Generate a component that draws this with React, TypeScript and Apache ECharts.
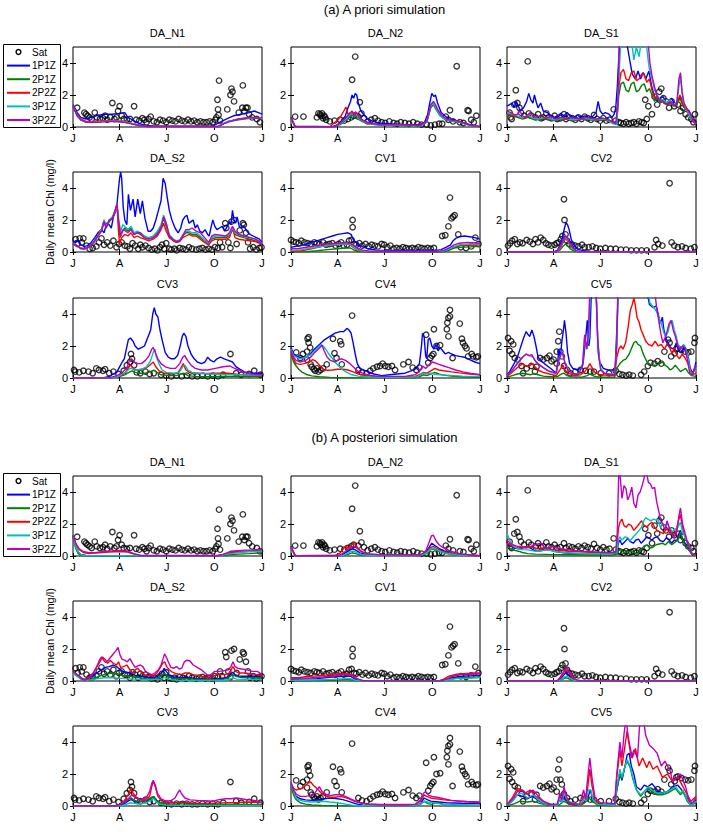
import React, { useEffect, useRef } from "react";
import * as echarts from "echarts";

// ---------- categories, ticks, styling tables ----------
const STATIONS = ["DA_N1", "DA_N2", "DA_S1", "DA_S2", "CV1", "CV2", "CV3", "CV4", "CV5"];
const MODELS = ["1P1Z", "2P1Z", "2P2Z", "3P1Z", "3P2Z"];
const MODEL_COLORS = ["#0000ff", "#008000", "#ff0000", "#00bfbf", "#bf00bf"];
const PHASE_TITLES = ["(a) A priori simulation", "(b) A posteriori simulation"];
const MONTH_DAYS = [0, 90, 181, 273, 365];
const MONTH_LABELS = ["J", "A", "J", "O", "J"];
const Y_TICKS = [0, 2, 4];
const Y_LABEL = "Daily mean Chl (mg/l)";

// ---------- satellite observations: [day, chl, day, chl, ...] ----------
const SAT_DA_N1 = [8,1.2, 22,0.9, 25,0.8, 28,0.7, 32,0.6, 36,0.5, 42,0.9, 46,0.6, 52,0.5, 58,0.55, 62,0.7, 66,0.45, 72,0.6, 76,1.5, 80,0.5, 84,0.6, 87,1.0, 90,1.3, 94,0.7, 98,0.5, 104,0.45, 110,0.5, 118,1.3, 122,0.45, 128,0.4, 134,0.55, 138,0.45, 142,0.3, 146,0.5, 150,0.65, 156,0.35, 162,0.3, 168,0.45, 174,0.4, 180,0.3, 186,0.45, 192,0.4, 198,0.35, 204,0.5, 210,0.4, 216,0.35, 222,0.45, 228,0.35, 234,0.4, 240,0.3, 246,0.35, 252,0.3, 258,0.3, 264,0.35, 270,0.3, 275,0.45, 277,0.6, 279,1.7, 280,1.1, 281,0.75, 282,2.9, 284,0.4, 298,1.1, 304,2.0, 306,2.4, 308,2.2, 311,1.6, 320,0.9, 327,1.2, 328,2.6, 331,1.0, 334,1.2, 337,1.2, 340,0.8, 346,0.6, 355,0.5, 361,0.3];
const SAT_DA_N2 = [8,0.65, 24,0.65, 50,0.6, 53,0.85, 56,0.8, 58,0.7, 60,0.85, 62,0.55, 64,0.7, 66,0.6, 68,0.45, 75,0.35, 84,0.4, 95,0.45, 103,0.4, 110,0.5, 116,0.6, 118,2.95, 121,0.7, 124,4.4, 130,0.65, 133,1.55, 136,0.85, 141,0.55, 148,0.35, 155,0.45, 162,0.55, 168,0.4, 175,0.3, 182,0.25, 190,0.35, 198,0.25, 205,0.2, 212,0.3, 220,0.25, 228,0.2, 236,0.3, 244,0.2, 252,0.15, 262,0.15, 270,0.1, 278,0.15, 286,0.2, 292,0.2, 299,0.65, 304,0.45, 307,1.05, 313,0.35, 320,3.8, 326,0.3, 333,0.25, 341,1.05, 343,1.0, 348,0.45, 353,0.3, 358,0.7];
const SAT_DA_S1 = [5,0.9, 7,0.6, 9,0.5, 14,1.4, 17,2.3, 20,1.5, 24,1.2, 27,0.9, 33,0.7, 40,4.1, 42,0.85, 47,0.7, 55,0.6, 60,0.8, 66,0.55, 70,0.6, 76,0.85, 80,0.6, 86,0.55, 92,0.7, 97,0.5, 103,0.55, 110,0.8, 114,0.5, 120,0.6, 126,0.55, 132,0.45, 138,0.6, 144,0.5, 150,0.65, 156,0.55, 162,0.45, 168,0.75, 174,0.5, 180,0.4, 186,0.55, 192,0.4, 198,0.45, 206,1.1, 210,0.4, 216,0.3, 220,0.25, 225,0.2, 230,0.3, 235,0.2, 240,0.25, 245,0.3, 250,0.2, 255,0.35, 260,0.3, 264,0.25, 267,1.7, 270,0.5, 273,1.3, 280,0.8, 285,1.9, 290,1.4, 294,2.2, 298,2.4, 302,1.8, 307,1.6, 313,1.2, 318,1.6, 323,1.3, 330,1.4, 335,1.0, 340,1.2, 345,0.8, 350,0.6, 356,0.5, 360,0.3, 363,0.8];
const SAT_DA_S2 = [5,0.8, 9,0.5, 13,0.85, 17,0.6, 20,0.85, 26,0.4, 32,0.2, 38,0.25, 45,0.35, 50,0.6, 55,0.85, 60,0.45, 66,0.6, 72,0.4, 78,0.7, 84,0.3, 89,0.5, 94,0.6, 100,0.4, 105,0.35, 110,0.2, 115,0.55, 120,0.4, 126,0.2, 130,0.45, 134,0.3, 140,0.4, 146,0.25, 152,0.15, 158,0.2, 163,0.1, 168,0.3, 172,0.45, 176,0.2, 180,0.55, 186,0.2, 190,0.15, 196,0.2, 200,0.1, 206,0.25, 212,0.2, 218,0.15, 224,0.3, 230,0.2, 238,0.15, 244,0.2, 250,0.25, 256,0.15, 262,0.2, 268,0.15, 274,0.3, 280,0.25, 284,0.6, 288,0.3, 294,1.8, 296,1.5, 300,0.6, 304,0.25, 306,1.9, 311,2.0, 316,0.5, 322,1.35, 328,1.8, 330,1.7, 334,1.2, 338,0.6, 342,0.2, 348,0.3, 354,0.15, 360,0.25, 364,0.3];
const SAT_CV1 = [0,0.75, 5,0.65, 10,0.6, 15,0.55, 20,0.7, 26,0.6, 32,0.55, 38,0.5, 45,0.6, 50,0.55, 55,0.5, 62,0.6, 68,0.45, 74,0.5, 80,0.55, 86,0.4, 92,0.5, 97,0.6, 102,0.4, 108,0.45, 112,0.7, 117,0.75, 119,2.0, 119,1.55, 122,0.5, 126,0.45, 132,0.55, 138,0.4, 144,0.5, 150,0.35, 156,0.45, 162,0.4, 168,0.35, 175,0.5, 180,0.45, 186,0.3, 192,0.4, 198,0.2, 204,0.25, 210,0.2, 216,0.3, 222,0.25, 228,0.2, 234,0.25, 240,0.2, 246,0.3, 252,0.25, 258,0.2, 264,0.25, 270,0.2, 276,0.25, 292,1.0, 298,1.05, 304,1.6, 307,3.4, 310,2.1, 313,2.2, 316,2.3, 323,1.1, 328,0.3, 338,0.25, 348,0.35, 356,0.9, 362,0.5];
const SAT_CV2 = [2,0.4, 6,0.55, 10,0.7, 15,0.8, 20,0.5, 25,0.6, 30,0.55, 38,0.75, 44,0.65, 50,0.5, 55,0.8, 60,0.6, 65,0.9, 70,0.75, 75,0.55, 80,0.45, 86,0.4, 92,0.45, 96,0.55, 100,0.6, 104,0.8, 107,1.0, 110,3.3, 111,2.0, 113,1.1, 116,0.7, 120,0.5, 126,0.45, 132,0.4, 138,0.35, 145,0.45, 150,0.3, 158,0.3, 165,0.35, 172,0.25, 180,0.2, 190,0.25, 200,0.2, 210,0.2, 220,0.15, 230,0.15, 240,0.1, 250,0.1, 260,0.1, 270,0.1, 285,0.3, 288,0.75, 292,0.5, 300,0.4, 314,4.3, 318,0.6, 323,0.4, 330,0.3, 338,0.35, 345,0.25, 355,0.2, 362,0.3];
const SAT_CV3 = [2,0.5, 4,0.4, 12,0.35, 20,0.45, 30,0.4, 38,0.3, 45,0.6, 50,0.5, 58,0.45, 62,0.55, 70,0.3, 78,0.4, 88,0.25, 98,0.45, 104,0.8, 110,1.0, 112,1.5, 114,1.2, 118,0.8, 123,0.35, 130,0.3, 140,0.4, 148,0.25, 156,0.3, 170,0.2, 180,0.15, 190,0.1, 200,0.15, 210,0.1, 220,0.15, 230,0.1, 240,0.1, 250,0.15, 260,0.1, 270,0.15, 280,0.1, 290,0.2, 304,1.5, 315,0.3, 325,0.2, 340,0.25, 350,0.45, 362,0.2];
const SAT_CV4 = [10,1.6, 18,1.25, 23,1.5, 31,1.15, 32,2.45, 34,2.55, 34,2.2, 37,1.9, 31,1.65, 38,0.85, 40,0.7, 44,0.55, 47,0.45, 50,0.6, 53,0.4, 57,0.5, 62,0.6, 69,0.85, 81,2.45, 84,1.55, 88,1.25, 95,2.3, 97,2.1, 98,0.85, 118,3.9, 130,0.5, 137,0.35, 146,0.3, 153,0.45, 159,0.6, 166,0.7, 172,0.75, 177,0.9, 182,0.75, 188,0.7, 195,0.75, 201,0.5, 217,0.85, 227,1.0, 235,0.65, 242,0.5, 248,0.65, 261,2.7, 265,0.95, 269,1.25, 272,1.4, 275,1.5, 276,3.05, 281,2.0, 288,2.05, 301,3.05, 302,3.45, 304,3.75, 307,4.25, 307,3.85, 304,2.6, 312,1.25, 326,3.4, 330,2.45, 332,2.2, 336,2.0, 339,1.85, 342,1.35, 349,1.5, 352,1.35, 358,1.3, 361,1.35];
const SAT_CV5 = [2,2.5, 8,2.3, 12,2.1, 5,1.7, 10,1.5, 15,1.25, 21,1.15, 28,0.75, 31,0.3, 38,0.6, 47,0.75, 54,0.4, 57,0.7, 64,1.25, 70,1.15, 77,1.25, 82,1.4, 86,1.05, 90,1.15, 96,0.9, 96,1.65, 99,2.3, 101,2.9, 103,1.65, 106,1.35, 110,0.75, 116,0.5, 122,0.3, 132,0.4, 142,0.5, 152,0.45, 161,0.4, 168,0.4, 181,0.3, 197,0.3, 210,0.45, 217,0.25, 223,0.2, 230,0.15, 236,0.2, 243,0.15, 259,0.2, 265,0.4, 272,0.75, 277,0.95, 285,0.9, 291,1.05, 298,0.9, 304,1.65, 311,2.4, 314,2.2, 317,1.35, 324,1.55, 327,1.8, 330,1.85, 337,1.75, 344,1.65, 350,1.6, 356,1.65, 362,2.2, 363,2.5];

// ---------- a priori runs: [day, chl, ...] ----------
const PRI_DA_N1_1P1Z = [0,1.4, 8,0.9, 15,0.6, 25,0.5, 35,0.6, 45,0.7, 60,0.8, 75,0.8, 90,0.85, 100,0.9, 106,0.6, 112,0.5, 120,0.35, 130,0.2, 140,0.1, 160,0.05, 265,0.05, 275,0.15, 290,0.4, 300,0.55, 310,0.7, 325,0.8, 340,0.9, 350,1.0, 358,0.9, 365,0.8];
const PRI_DA_N1_2P1Z = [0,1.3, 8,0.7, 15,0.45, 25,0.3, 40,0.3, 60,0.35, 80,0.35, 100,0.3, 115,0.2, 130,0.08, 145,0.02, 280,0.02, 290,0.2, 300,0.35, 320,0.45, 340,0.55, 355,0.55, 365,0.5];
const PRI_DA_N1_2P2Z = [0,1.3, 8,0.75, 15,0.5, 25,0.35, 40,0.35, 60,0.4, 80,0.4, 100,0.35, 115,0.2, 130,0.1, 145,0.03, 280,0.03, 290,0.2, 300,0.35, 320,0.5, 340,0.6, 355,0.6, 365,0.55];
const PRI_DA_N1_3P1Z = [0,1.35, 8,0.7, 15,0.45, 25,0.3, 40,0.3, 60,0.35, 80,0.38, 100,0.33, 115,0.2, 130,0.08, 145,0.02, 280,0.02, 290,0.2, 300,0.35, 320,0.5, 340,0.55, 355,0.58, 365,0.55];
const PRI_DA_N1_3P2Z = [0,1.3, 8,0.7, 15,0.45, 25,0.3, 45,0.3, 60,0.32, 80,0.35, 100,0.3, 115,0.18, 130,0.08, 145,0.03, 280,0.03, 290,0.2, 300,0.3, 320,0.5, 335,0.55, 345,0.6, 355,0.55, 365,0.6];

const PRI_DA_N2_1P1Z = [0,0.6, 8,0.05, 80,0.02, 90,0.15, 98,0.4, 105,0.7, 110,1.2, 115,1.6, 118,2.0, 121,1.8, 124,2.1, 127,2.0, 130,1.5, 135,1.0, 140,0.8, 148,0.5, 158,0.35, 170,0.25, 190,0.2, 220,0.15, 250,0.15, 258,0.3, 264,0.8, 268,1.5, 272,2.1, 276,1.9, 279,2.0, 283,1.5, 290,0.9, 297,0.7, 305,0.5, 315,0.45, 325,0.35, 335,0.25, 350,0.1, 365,0.02];
const PRI_DA_N2_2P1Z = [0,0.55, 8,0.02, 85,0.02, 95,0.15, 105,0.4, 112,0.6, 118,0.75, 122,0.6, 126,0.7, 132,0.45, 140,0.3, 150,0.2, 170,0.12, 250,0.08, 262,0.3, 270,1.2, 275,1.4, 280,1.1, 288,0.7, 298,0.45, 310,0.35, 325,0.3, 345,0.1, 365,0.02];
const PRI_DA_N2_2P2Z = [0,0.55, 8,0.02, 75,0.02, 85,0.3, 95,0.6, 102,1.0, 106,1.25, 110,0.8, 115,0.9, 120,0.8, 125,0.95, 130,0.6, 140,0.4, 150,0.25, 170,0.15, 250,0.1, 262,0.3, 270,1.3, 275,1.5, 280,1.2, 288,0.75, 298,0.5, 310,0.4, 325,0.35, 345,0.12, 365,0.02];
const PRI_DA_N2_3P1Z = [0,0.55, 8,0.02, 85,0.02, 95,0.2, 105,0.45, 112,0.7, 118,0.85, 122,0.7, 126,0.8, 132,0.5, 140,0.35, 150,0.22, 170,0.12, 250,0.08, 262,0.3, 270,1.3, 275,1.5, 280,1.15, 288,0.7, 298,0.48, 310,0.38, 325,0.32, 345,0.1, 365,0.02];
const PRI_DA_N2_3P2Z = [0,0.55, 8,0.02, 85,0.02, 95,0.25, 105,0.55, 112,0.8, 118,1.0, 122,0.7, 127,0.9, 133,0.55, 140,0.4, 150,0.25, 170,0.15, 250,0.1, 262,0.35, 270,1.4, 275,1.6, 279,1.4, 285,1.0, 292,0.7, 300,0.5, 312,0.42, 325,0.35, 345,0.12, 365,0.02];

const PRI_DA_S1_1P1Z = [0,1.3, 5,1.4, 10,1.5, 14,1.2, 18,1.6, 22,1.3, 26,1.0, 32,1.2, 38,1.6, 42,2.1, 46,1.7, 50,1.5, 53,2.0, 57,1.5, 60,1.2, 65,1.5, 70,1.0, 78,0.9, 85,0.7, 92,0.6, 98,0.7, 104,0.85, 110,0.7, 116,0.9, 122,0.7, 130,0.6, 136,0.75, 142,0.6, 150,0.7, 158,0.6, 165,0.65, 172,0.9, 176,1.6, 180,1.0, 185,0.8, 190,0.9, 197,0.8, 203,0.6, 207,0.8, 210,1.2, 213,2.5, 215,3.8, 218,5.5, 230,5.5, 238,4.0, 242,3.3, 248,3.0, 253,3.5, 258,3.0, 263,3.4, 268,3.0, 274,3.5, 279,2.6, 284,2.0, 290,1.6, 296,1.8, 302,1.9, 306,1.5, 312,1.6, 318,1.8, 324,1.4, 330,1.6, 335,1.9, 340,1.5, 345,1.2, 352,1.0, 358,0.5, 365,0.3];
const PRI_DA_S1_2P1Z = [0,0.8, 10,0.7, 20,0.6, 30,0.5, 40,0.6, 50,0.5, 60,0.45, 75,0.55, 90,0.4, 110,0.5, 130,0.4, 150,0.5, 170,0.4, 190,0.45, 205,0.25, 212,0.3, 216,2.0, 220,2.7, 225,2.8, 230,2.3, 235,2.2, 240,2.7, 245,2.8, 250,2.2, 255,2.3, 260,2.6, 265,2.7, 270,2.2, 275,2.4, 280,2.0, 285,1.6, 290,1.8, 296,1.5, 302,1.6, 308,1.4, 315,1.5, 322,1.3, 328,1.4, 334,1.8, 340,1.3, 348,1.0, 356,0.6, 362,0.3, 365,0.25];
const PRI_DA_S1_2P2Z = [0,0.85, 10,0.75, 20,0.65, 30,0.55, 40,0.7, 50,0.55, 60,0.5, 75,0.6, 90,0.45, 110,0.55, 130,0.45, 150,0.55, 170,0.45, 190,0.5, 205,0.3, 212,0.35, 216,2.5, 220,3.4, 225,3.6, 230,3.0, 235,2.9, 240,3.4, 245,3.5, 250,2.9, 255,3.0, 260,3.3, 265,3.3, 270,2.8, 275,3.0, 280,2.3, 285,1.8, 290,1.9, 296,1.6, 302,1.7, 308,1.5, 315,1.6, 322,1.4, 328,1.5, 334,2.0, 340,1.4, 348,1.0, 356,0.6, 362,0.3, 365,0.25];
const PRI_DA_S1_3P1Z = [0,0.9, 10,0.8, 20,0.7, 30,0.55, 40,0.75, 50,0.55, 60,0.5, 75,0.6, 90,0.45, 110,0.55, 130,0.45, 150,0.55, 170,0.45, 190,0.5, 205,0.2, 212,0.15, 216,3.0, 220,5.5, 240,5.5, 245,4.2, 250,5.0, 255,4.4, 260,5.5, 268,5.5, 274,3.8, 280,3.0, 285,2.3, 290,2.0, 296,1.7, 302,1.7, 308,1.5, 315,1.7, 322,1.4, 328,1.6, 335,3.2, 340,1.6, 348,1.0, 356,0.5, 362,0.25, 365,0.2];
const PRI_DA_S1_3P2Z = [0,1.0, 8,0.9, 15,0.75, 20,0.8, 25,1.0, 30,0.7, 35,0.6, 40,0.75, 45,0.9, 50,0.7, 55,0.6, 65,0.7, 75,0.55, 85,0.65, 95,0.5, 105,0.6, 115,0.5, 125,0.6, 140,0.5, 155,0.6, 170,0.5, 185,0.55, 200,0.4, 205,0.3, 210,0.2, 214,1.5, 217,5.5, 272,5.5, 276,4.0, 280,3.2, 285,2.5, 290,1.9, 295,1.7, 300,1.6, 306,1.5, 312,1.4, 318,1.6, 324,1.3, 328,1.5, 332,3.0, 335,3.4, 338,2.2, 342,1.5, 348,1.1, 355,0.8, 360,0.3, 365,0.2];

const PRI_DA_S2_1P1Z = [0,0.6, 5,0.7, 10,0.7, 15,0.45, 22,0.35, 28,0.4, 35,0.6, 42,0.9, 48,1.2, 55,1.4, 60,1.2, 65,1.8, 70,1.7, 74,1.5, 78,2.2, 82,2.6, 85,3.0, 88,4.0, 90,4.6, 92,5.0, 94,4.6, 97,2.8, 100,2.0, 104,1.7, 107,3.6, 111,2.6, 116,3.3, 120,2.2, 125,3.3, 130,2.4, 134,3.2, 139,2.1, 145,1.3, 150,1.3, 155,1.5, 160,2.0, 165,2.6, 170,3.2, 174,4.6, 178,4.3, 182,3.4, 186,2.6, 191,2.0, 197,1.5, 203,1.2, 208,1.5, 212,2.0, 216,2.2, 220,2.3, 224,1.8, 228,1.9, 232,2.0, 236,1.5, 240,1.7, 245,1.3, 250,1.2, 255,1.4, 260,1.1, 263,1.0, 267,1.6, 270,2.0, 274,1.6, 278,1.4, 283,1.5, 288,1.6, 293,1.3, 298,1.6, 302,1.9, 305,1.7, 308,2.6, 311,2.0, 314,1.8, 317,2.2, 321,1.6, 325,1.5, 330,1.6, 336,1.3, 342,1.1, 348,1.0, 354,0.9, 360,0.8, 365,0.6];
const PRI_DA_S2_2P1Z = [0,0.5, 8,0.4, 15,0.25, 22,0.2, 30,0.3, 40,0.6, 48,1.0, 55,1.3, 60,1.9, 64,1.5, 70,1.9, 76,2.1, 82,2.5, 85,2.9, 88,1.8, 91,0.9, 95,1.3, 100,1.5, 106,1.3, 112,1.5, 118,1.1, 124,1.2, 130,1.1, 138,0.9, 146,0.8, 155,0.9, 163,1.2, 170,1.6, 175,2.1, 180,1.6, 186,1.0, 194,0.7, 200,0.6, 206,0.7, 212,1.0, 218,1.2, 224,1.2, 230,1.1, 238,1.1, 246,0.9, 254,0.7, 262,0.5, 268,0.8, 275,0.9, 285,0.9, 295,0.9, 302,1.0, 308,1.4, 313,1.1, 320,1.0, 330,0.9, 342,0.8, 352,0.7, 365,0.5];
const PRI_DA_S2_2P2Z = [0,0.5, 8,0.4, 15,0.2, 22,0.2, 30,0.3, 40,0.6, 48,1.0, 55,1.4, 60,2.0, 64,1.6, 70,2.0, 76,2.1, 82,2.6, 85,2.9, 88,1.2, 90,0.5, 94,0.9, 100,1.1, 106,1.0, 112,1.2, 118,0.9, 124,1.0, 130,0.9, 138,0.8, 146,0.7, 155,0.8, 163,1.0, 170,1.4, 175,1.8, 180,1.3, 186,0.9, 194,0.7, 200,0.6, 206,0.65, 212,0.9, 218,1.0, 224,1.1, 230,1.0, 238,1.0, 246,0.8, 254,0.6, 262,0.45, 268,0.7, 275,0.8, 285,0.8, 295,0.8, 302,0.9, 308,1.5, 313,0.9, 320,0.8, 330,0.75, 342,0.7, 352,0.65, 365,0.5];
const PRI_DA_S2_3P1Z = [0,0.5, 8,0.4, 15,0.25, 22,0.2, 30,0.3, 40,0.6, 48,1.0, 55,1.4, 60,2.0, 64,1.6, 70,2.0, 76,2.2, 82,2.6, 85,3.0, 88,2.0, 92,1.3, 96,1.7, 100,1.6, 106,1.4, 112,1.6, 118,1.2, 124,1.3, 130,1.2, 138,1.0, 146,0.9, 155,1.0, 163,1.3, 170,1.7, 175,2.3, 180,1.8, 186,1.1, 194,0.8, 200,0.7, 206,0.75, 212,1.1, 218,1.3, 224,1.3, 230,1.2, 238,1.2, 246,1.0, 254,0.75, 262,0.55, 268,0.9, 275,1.0, 285,1.0, 295,1.0, 302,1.1, 308,1.5, 313,1.2, 320,1.1, 330,1.0, 342,0.9, 352,0.8, 365,0.55];
const PRI_DA_S2_3P2Z = [0,0.5, 8,0.4, 15,0.22, 22,0.2, 30,0.3, 40,0.6, 48,1.0, 55,1.3, 60,1.9, 64,1.5, 70,2.0, 76,2.1, 82,2.7, 85,3.0, 88,2.0, 92,1.0, 97,1.4, 102,1.3, 106,1.2, 112,1.4, 118,1.1, 124,1.2, 130,1.2, 138,0.9, 146,0.8, 155,0.9, 163,1.1, 170,1.5, 175,2.2, 180,1.8, 186,1.0, 194,0.75, 200,0.65, 206,0.7, 212,1.0, 218,1.4, 224,1.4, 230,1.5, 238,1.3, 246,1.2, 254,0.9, 262,0.6, 268,1.0, 275,1.1, 285,1.05, 295,1.0, 302,1.2, 308,1.6, 313,1.3, 320,1.1, 330,1.0, 342,0.9, 352,0.8, 358,0.7, 365,0.5];

const PRI_CV1_1P1Z = [0,0.3, 10,0.35, 20,0.4, 30,0.5, 40,0.6, 50,0.7, 60,0.8, 70,0.9, 80,1.0, 90,1.1, 100,1.15, 110,1.2, 116,1.1, 120,0.8, 125,0.6, 132,0.45, 140,0.3, 150,0.2, 165,0.12, 200,0.1, 280,0.1, 290,0.15, 300,0.3, 308,0.45, 313,0.7, 318,0.85, 325,0.95, 335,1.0, 345,0.95, 355,0.9, 365,0.8];
const PRI_CV1_2P1Z = [0,0.0, 30,0.02, 50,0.08, 70,0.15, 90,0.2, 105,0.25, 115,0.25, 122,0.12, 130,0.03, 150,0.0, 295,0.0, 305,0.1, 315,0.25, 325,0.3, 345,0.32, 365,0.35];
const PRI_CV1_2P2Z = [0,0.05, 20,0.08, 40,0.2, 60,0.35, 80,0.42, 100,0.5, 112,0.48, 120,0.3, 127,0.15, 135,0.05, 150,0.02, 290,0.02, 300,0.1, 312,0.3, 325,0.4, 345,0.42, 365,0.45];
const PRI_CV1_3P1Z = [0,0.1, 20,0.15, 40,0.25, 60,0.35, 80,0.45, 100,0.5, 112,0.5, 120,0.35, 127,0.18, 135,0.08, 150,0.03, 290,0.03, 300,0.1, 312,0.3, 325,0.45, 345,0.5, 365,0.5];
const PRI_CV1_3P2Z = [0,0.2, 15,0.22, 30,0.3, 50,0.4, 70,0.5, 90,0.55, 105,0.6, 115,0.55, 122,0.4, 128,0.25, 138,0.12, 150,0.06, 200,0.04, 285,0.04, 295,0.1, 305,0.25, 315,0.45, 325,0.55, 340,0.6, 355,0.58, 365,0.55];

const PRI_CV2_1P1Z = [0,0.01, 90,0.01, 97,0.1, 102,0.4, 107,0.9, 111,1.5, 114,1.85, 117,1.7, 120,1.4, 124,0.8, 130,0.4, 136,0.2, 145,0.1, 160,0.04, 365,0.01];
const PRI_CV2_2P1Z = [0,0.0, 95,0.0, 103,0.15, 108,0.35, 113,0.5, 117,0.4, 122,0.2, 130,0.05, 140,0.0, 365,0.0];
const PRI_CV2_2P2Z = [0,0.0, 95,0.0, 102,0.2, 107,0.5, 112,0.8, 116,0.75, 120,0.5, 127,0.2, 135,0.05, 145,0.0, 365,0.0];
const PRI_CV2_3P1Z = [0,0.0, 95,0.0, 102,0.25, 107,0.6, 112,0.9, 116,0.8, 120,0.55, 127,0.2, 135,0.05, 145,0.0, 365,0.0];
const PRI_CV2_3P2Z = [0,0.0, 95,0.0, 102,0.3, 107,0.65, 112,0.95, 115,1.0, 119,0.7, 125,0.35, 132,0.12, 142,0.02, 365,0.0];

const PRI_CV3_1P1Z = [0,0.0, 60,0.02, 70,0.1, 78,0.25, 85,0.4, 90,0.7, 95,1.0, 99,1.2, 103,1.8, 107,2.4, 111,2.5, 116,2.3, 120,2.0, 126,1.8, 132,1.9, 138,2.0, 144,2.5, 150,3.0, 154,4.0, 157,4.4, 160,4.0, 164,3.8, 168,3.0, 172,2.4, 178,1.6, 184,1.3, 190,1.2, 196,1.2, 202,1.4, 207,2.0, 211,2.6, 214,2.8, 218,2.6, 222,2.0, 228,1.5, 234,1.2, 240,1.0, 248,0.9, 255,1.0, 260,1.3, 266,1.1, 272,1.0, 278,1.2, 285,1.3, 292,1.2, 300,1.1, 308,1.0, 315,0.7, 322,0.55, 330,0.4, 340,0.3, 355,0.3, 365,0.3];
const PRI_CV3_2P1Z = [0,0.0, 75,0.0, 90,0.1, 100,0.2, 108,0.35, 114,0.45, 120,0.35, 130,0.3, 140,0.3, 150,0.4, 156,0.5, 162,0.35, 170,0.2, 185,0.15, 200,0.15, 208,0.25, 214,0.3, 222,0.15, 235,0.1, 260,0.08, 300,0.1, 365,0.08];
const PRI_CV3_2P2Z = [0,0.0, 75,0.01, 88,0.1, 96,0.2, 103,0.4, 108,0.7, 112,0.8, 117,0.55, 124,0.5, 132,0.55, 140,0.6, 148,0.8, 155,1.0, 160,0.7, 166,0.45, 175,0.3, 190,0.25, 202,0.3, 208,0.6, 213,0.9, 218,0.5, 225,0.35, 240,0.3, 260,0.28, 280,0.3, 300,0.3, 320,0.22, 340,0.18, 365,0.15];
const PRI_CV3_3P1Z = [0,0.0, 75,0.01, 88,0.1, 96,0.25, 103,0.4, 108,0.55, 113,0.6, 118,0.5, 125,0.5, 133,0.55, 142,0.7, 150,1.1, 155,1.6, 158,1.8, 161,1.3, 166,0.9, 172,0.5, 180,0.35, 195,0.3, 205,0.35, 212,0.7, 216,0.8, 222,0.5, 230,0.35, 245,0.3, 265,0.25, 290,0.22, 320,0.2, 365,0.18];
const PRI_CV3_3P2Z = [0,0.0, 70,0.02, 80,0.1, 88,0.2, 95,0.35, 100,0.5, 105,0.7, 109,1.1, 113,1.2, 118,1.0, 125,0.9, 132,0.9, 140,1.1, 147,1.4, 152,1.8, 155,1.9, 159,1.6, 164,1.2, 170,0.9, 178,0.7, 188,0.6, 198,0.6, 206,0.9, 212,1.3, 216,1.4, 221,1.1, 228,0.8, 236,0.6, 248,0.5, 260,0.5, 275,0.6, 290,0.7, 303,0.75, 312,0.6, 320,0.5, 330,0.35, 345,0.25, 365,0.2];

const PRI_CV4_1P1Z = [0,1.9, 5,1.5, 12,1.35, 20,1.25, 28,1.3, 36,1.45, 45,1.8, 55,2.1, 65,2.4, 75,2.6, 85,2.8, 95,2.9, 102,2.9, 108,3.1, 112,3.0, 116,2.8, 120,2.2, 124,1.5, 128,0.9, 133,0.6, 140,0.5, 148,0.4, 160,0.25, 175,0.15, 190,0.2, 205,0.25, 220,0.3, 232,0.45, 242,0.6, 248,0.9, 252,2.0, 254,2.8, 257,2.6, 260,1.4, 262,1.2, 265,2.4, 268,2.5, 272,2.0, 276,1.8, 280,2.1, 284,1.7, 288,1.9, 293,1.7, 298,1.5, 304,1.6, 310,1.5, 318,1.4, 326,1.35, 335,1.3, 345,1.15, 355,1.0, 365,0.9];
const PRI_CV4_2P1Z = [0,1.5, 5,1.0, 10,0.75, 15,0.55, 22,0.35, 30,0.22, 40,0.13, 55,0.08, 75,0.04, 100,0.02, 150,0.01, 240,0.01, 250,0.1, 255,0.2, 262,0.15, 270,0.25, 278,0.35, 285,0.25, 295,0.18, 310,0.12, 330,0.08, 365,0.05];
const PRI_CV4_2P2Z = [0,1.6, 5,1.2, 10,0.9, 18,0.85, 25,0.9, 35,1.0, 42,1.15, 48,1.05, 55,0.8, 62,0.55, 70,0.48, 80,0.5, 90,0.55, 100,0.55, 110,0.5, 120,0.38, 130,0.25, 145,0.15, 165,0.08, 200,0.05, 240,0.08, 250,0.25, 256,0.35, 262,0.3, 270,0.45, 278,0.6, 285,0.5, 295,0.45, 310,0.38, 325,0.32, 345,0.25, 365,0.2];
const PRI_CV4_3P1Z = [0,1.8, 5,1.4, 10,1.3, 18,1.2, 28,1.3, 38,1.45, 46,1.7, 52,1.9, 58,2.1, 62,2.0, 67,1.8, 72,1.55, 78,1.3, 85,1.0, 92,0.75, 100,0.5, 108,0.35, 118,0.2, 130,0.12, 150,0.06, 200,0.04, 245,0.08, 255,0.3, 262,0.25, 270,0.3, 280,0.22, 300,0.18, 330,0.12, 365,0.1];
const PRI_CV4_3P2Z = [0,1.7, 5,1.3, 10,1.1, 18,1.0, 28,1.1, 38,1.3, 46,1.6, 54,1.85, 60,2.05, 64,1.7, 70,1.3, 76,1.1, 85,1.0, 92,1.15, 98,1.2, 105,1.1, 112,0.95, 120,0.7, 128,0.45, 138,0.3, 150,0.18, 170,0.1, 220,0.1, 240,0.2, 248,0.4, 254,0.75, 260,0.6, 266,0.8, 272,1.0, 278,0.95, 286,0.85, 295,0.75, 305,0.65, 318,0.5, 332,0.38, 348,0.28, 365,0.2];

const PRI_CV5_1P1Z = [0,0.2, 5,0.4, 12,0.8, 20,1.3, 26,1.9, 32,2.5, 37,2.9, 41,2.7, 44,2.6, 48,3.0, 52,2.6, 56,2.0, 60,1.3, 65,1.1, 72,0.9, 80,0.7, 88,0.5, 95,0.3, 98,1.0, 100,1.8, 103,1.3, 106,2.3, 109,3.0, 111,3.6, 114,2.8, 117,1.6, 121,0.9, 127,0.6, 135,0.5, 142,0.6, 147,0.9, 151,2.2, 155,3.6, 158,2.0, 160,2.5, 163,5.5, 172,5.5, 175,2.5, 179,1.0, 186,0.6, 195,0.5, 205,0.5, 209,0.7, 212,3.0, 215,5.5, 270,5.5, 275,4.6, 282,4.4, 288,4.5, 292,4.0, 296,3.4, 300,3.8, 303,3.0, 307,2.5, 311,2.2, 316,1.9, 322,1.8, 327,2.2, 331,1.7, 336,1.6, 341,1.9, 346,1.7, 350,1.3, 354,0.6, 358,0.3, 362,0.6, 365,1.0];
const PRI_CV5_2P1Z = [0,0.05, 10,0.15, 20,0.25, 30,0.3, 38,0.25, 45,0.2, 52,0.28, 60,0.2, 70,0.12, 85,0.08, 98,0.1, 105,0.25, 110,0.3, 116,0.15, 125,0.08, 145,0.05, 155,0.15, 160,0.25, 168,0.12, 180,0.05, 208,0.05, 212,0.6, 218,0.9, 224,1.1, 230,1.2, 236,1.5, 241,1.9, 245,2.2, 249,2.3, 253,2.1, 258,2.0, 262,1.6, 266,1.3, 272,0.9, 280,0.8, 288,0.8, 295,0.9, 300,1.0, 305,0.8, 310,0.7, 315,0.5, 320,0.6, 325,0.8, 330,0.6, 335,0.4, 340,0.5, 345,0.6, 350,0.35, 356,0.15, 365,0.1];
const PRI_CV5_2P2Z = [0,0.1, 8,0.3, 15,0.5, 22,0.7, 30,0.9, 36,0.75, 42,0.7, 48,0.9, 54,0.7, 60,0.5, 70,0.35, 82,0.25, 95,0.15, 100,0.4, 104,0.6, 108,0.8, 112,0.5, 118,0.3, 130,0.15, 142,0.2, 150,0.4, 155,0.6, 160,0.9, 165,0.6, 170,0.35, 180,0.2, 208,0.15, 212,1.3, 216,1.8, 220,2.0, 224,1.8, 229,2.2, 234,3.2, 238,4.2, 242,4.6, 245,5.0, 248,4.5, 251,3.8, 255,3.5, 259,3.0, 263,2.7, 268,2.3, 273,2.1, 280,2.0, 286,2.3, 292,2.0, 298,2.1, 304,1.8, 309,2.1, 314,1.9, 319,1.5, 323,1.9, 328,1.4, 333,1.2, 338,1.5, 343,1.3, 348,1.0, 354,0.6, 358,0.2, 365,0.3];
const PRI_CV5_3P1Z = [0,0.15, 8,0.4, 15,0.7, 22,1.0, 30,1.3, 37,1.5, 43,1.4, 50,1.3, 56,1.0, 63,0.8, 72,0.6, 82,0.4, 95,0.25, 99,1.0, 103,1.4, 107,1.6, 112,1.0, 118,0.5, 126,0.3, 138,0.25, 146,0.8, 150,2.6, 154,1.8, 158,2.5, 161,5.5, 172,5.5, 176,1.8, 181,0.6, 188,0.3, 200,0.25, 208,0.25, 212,2.0, 215,5.5, 272,5.5, 276,4.7, 281,4.5, 286,4.3, 291,4.0, 295,3.6, 299,3.3, 303,2.8, 307,2.6, 311,2.9, 315,3.4, 319,3.6, 323,3.0, 327,2.6, 331,2.0, 336,1.8, 341,2.1, 345,1.9, 350,1.2, 354,0.4, 358,0.2, 362,0.5, 365,0.8];
const PRI_CV5_3P2Z = [0,0.15, 8,0.4, 15,0.7, 22,1.0, 30,1.3, 37,1.5, 42,1.4, 48,1.45, 54,1.1, 60,0.9, 70,0.65, 80,0.45, 95,0.3, 99,1.0, 103,1.4, 107,1.6, 112,0.9, 118,0.45, 126,0.3, 138,0.2, 146,0.8, 150,2.7, 154,1.8, 157,2.8, 160,5.5, 172,5.5, 176,1.6, 181,0.5, 188,0.3, 200,0.2, 208,0.2, 212,2.0, 214,5.5, 285,5.5, 289,4.4, 293,3.6, 297,2.8, 301,2.2, 305,2.5, 309,2.9, 313,3.4, 317,3.6, 321,3.0, 325,2.6, 330,2.0, 334,1.8, 339,2.0, 344,1.9, 349,1.0, 353,0.3, 358,0.2, 362,0.5, 365,0.8];

// ---------- a posteriori runs: [day, chl, ...] ----------
const POS_DA_N1_1P1Z = [0,1.3, 5,0.6, 10,0.25, 15,0.1, 25,0.03, 100,0.02, 280,0.02, 290,0.1, 300,0.2, 320,0.25, 340,0.3, 365,0.3];
const POS_DA_N1_2P1Z = [0,1.2, 5,0.5, 10,0.15, 15,0.05, 25,0.01, 290,0.01, 300,0.08, 320,0.12, 340,0.15, 365,0.2];
const POS_DA_N1_2P2Z = [0,1.3, 6,0.7, 12,0.4, 20,0.22, 30,0.15, 50,0.2, 70,0.25, 90,0.28, 105,0.25, 118,0.12, 130,0.03, 280,0.02, 292,0.1, 305,0.25, 325,0.3, 345,0.32, 365,0.35];
const POS_DA_N1_3P1Z = [0,1.4, 5,0.6, 10,0.25, 16,0.08, 25,0.02, 285,0.02, 295,0.1, 310,0.18, 330,0.25, 350,0.28, 365,0.3];
const POS_DA_N1_3P2Z = [0,1.3, 6,0.75, 12,0.45, 20,0.28, 30,0.2, 45,0.22, 60,0.28, 75,0.32, 90,0.35, 105,0.3, 118,0.15, 130,0.04, 280,0.03, 292,0.12, 305,0.3, 325,0.35, 345,0.38, 365,0.42];

const POS_DA_N2_1P1Z = [0,0.6, 8,0.03, 90,0.02, 100,0.1, 108,0.25, 115,0.4, 120,0.45, 126,0.35, 133,0.2, 145,0.08, 170,0.05, 250,0.05, 260,0.2, 266,0.5, 272,0.8, 278,0.65, 285,0.5, 295,0.3, 310,0.15, 330,0.08, 365,0.02];
const POS_DA_N2_2P1Z = [0,0.55, 8,0.02, 100,0.02, 110,0.1, 118,0.2, 125,0.15, 135,0.05, 250,0.03, 262,0.15, 270,0.4, 276,0.45, 285,0.3, 300,0.15, 320,0.05, 365,0.01];
const POS_DA_N2_2P2Z = [0,0.55, 8,0.02, 85,0.03, 95,0.2, 102,0.5, 106,0.65, 110,0.5, 115,0.6, 120,0.8, 125,0.7, 130,0.45, 138,0.25, 150,0.12, 170,0.08, 250,0.06, 262,0.25, 268,0.5, 274,0.6, 280,0.5, 290,0.3, 305,0.18, 325,0.08, 365,0.02];
const POS_DA_N2_3P1Z = [0,0.55, 8,0.02, 100,0.02, 108,0.15, 115,0.28, 121,0.3, 128,0.2, 138,0.08, 160,0.03, 250,0.03, 262,0.2, 270,0.45, 276,0.5, 284,0.35, 298,0.18, 320,0.06, 365,0.01];
const POS_DA_N2_3P2Z = [0,0.55, 8,0.02, 92,0.03, 102,0.2, 110,0.4, 116,0.55, 121,0.6, 127,0.5, 134,0.3, 145,0.15, 170,0.08, 250,0.06, 260,0.3, 266,0.8, 271,1.25, 275,1.3, 280,0.95, 286,0.7, 295,0.5, 308,0.3, 325,0.15, 345,0.06, 365,0.02];

const POS_DA_S1_1P1Z = [0,0.7, 8,0.6, 15,0.5, 22,0.45, 30,0.5, 38,0.6, 45,0.5, 52,0.35, 60,0.3, 70,0.35, 80,0.4, 90,0.3, 100,0.25, 110,0.2, 130,0.15, 160,0.15, 190,0.15, 205,0.15, 212,0.2, 215,0.8, 218,1.0, 222,0.7, 228,0.9, 233,1.1, 238,0.9, 244,0.8, 249,1.0, 254,1.05, 259,0.8, 265,1.0, 270,1.2, 275,1.1, 280,1.0, 285,1.15, 290,1.2, 296,0.95, 302,0.9, 308,1.15, 313,1.0, 318,0.8, 323,1.0, 328,0.95, 332,1.4, 335,1.6, 339,1.0, 344,0.8, 349,0.5, 354,0.3, 358,0.08, 365,0.05];
const POS_DA_S1_2P1Z = [0,0.6, 8,0.45, 15,0.35, 22,0.3, 30,0.22, 40,0.15, 55,0.12, 80,0.1, 120,0.08, 200,0.05, 212,0.1, 216,0.35, 220,0.4, 226,0.2, 232,0.25, 240,0.3, 246,0.2, 252,0.1, 258,0.35, 264,0.6, 270,0.7, 276,0.5, 282,0.55, 288,0.7, 294,0.75, 300,0.8, 306,0.7, 312,0.9, 318,0.7, 324,0.85, 330,1.0, 335,1.5, 339,1.0, 344,0.7, 349,0.45, 354,0.25, 358,0.05, 365,0.03];
const POS_DA_S1_2P2Z = [0,0.8, 8,0.65, 15,0.55, 22,0.5, 30,0.55, 40,0.6, 50,0.55, 60,0.45, 70,0.5, 80,0.45, 90,0.4, 100,0.35, 120,0.3, 150,0.25, 180,0.2, 205,0.2, 212,0.3, 215,1.7, 218,2.1, 222,2.3, 226,1.9, 230,1.8, 235,2.0, 240,1.9, 245,1.6, 250,1.8, 255,2.0, 260,2.2, 265,1.9, 270,1.8, 275,2.0, 280,2.1, 285,1.8, 290,1.6, 296,1.5, 302,1.4, 308,1.7, 314,1.5, 320,1.3, 326,1.5, 331,2.2, 335,2.6, 339,1.7, 344,1.2, 349,0.8, 354,0.4, 358,0.1, 365,0.08];
const POS_DA_S1_3P1Z = [0,1.4, 5,1.0, 10,0.7, 15,0.55, 22,0.45, 30,0.4, 40,0.38, 50,0.32, 60,0.3, 70,0.35, 80,0.38, 90,0.3, 100,0.25, 115,0.2, 150,0.15, 200,0.15, 212,0.2, 215,1.0, 218,1.2, 222,1.0, 228,1.2, 233,1.15, 238,0.95, 244,1.2, 250,1.4, 255,1.6, 260,1.8, 264,2.2, 268,2.4, 272,2.3, 278,2.2, 283,2.3, 288,2.25, 292,2.3, 296,1.8, 300,2.0, 305,1.9, 310,2.0, 315,1.7, 320,1.5, 325,1.7, 330,1.8, 335,2.1, 339,1.5, 344,1.2, 349,0.8, 354,0.4, 358,0.1, 365,0.08];
const POS_DA_S1_3P2Z = [0,1.0, 6,0.8, 12,0.7, 20,0.6, 28,0.6, 36,0.5, 44,0.55, 52,0.7, 60,0.75, 66,0.8, 72,0.55, 80,0.5, 88,0.6, 96,0.5, 105,0.45, 120,0.38, 140,0.3, 160,0.28, 180,0.22, 200,0.2, 210,0.25, 213,1.5, 216,5.5, 219,4.8, 222,3.6, 226,4.4, 230,4.2, 233,3.5, 237,3.8, 241,4.3, 245,3.3, 249,3.0, 253,3.8, 257,4.0, 261,4.4, 265,4.9, 268,5.5, 273,4.6, 277,4.5, 281,4.2, 285,4.3, 289,3.4, 293,2.8, 297,2.2, 301,2.0, 305,1.6, 309,2.2, 313,1.8, 318,1.4, 323,1.2, 328,1.5, 332,2.5, 335,3.0, 339,2.0, 344,1.4, 349,0.8, 354,0.3, 358,0.1, 365,0.08];

const POS_DA_S2_1P1Z = [0,0.6, 6,0.45, 12,0.3, 18,0.15, 24,0.1, 32,0.2, 40,0.35, 48,0.55, 55,0.7, 62,0.85, 70,0.9, 78,1.0, 84,0.9, 90,0.75, 96,0.6, 104,0.55, 112,0.5, 120,0.35, 130,0.3, 140,0.25, 155,0.2, 165,0.35, 172,0.55, 176,0.8, 180,0.6, 186,0.35, 195,0.25, 210,0.2, 225,0.2, 240,0.15, 260,0.12, 280,0.15, 295,0.2, 303,0.35, 308,0.55, 313,0.4, 320,0.3, 335,0.3, 350,0.3, 365,0.3];
const POS_DA_S2_2P1Z = [0,0.5, 6,0.35, 12,0.2, 18,0.08, 26,0.05, 35,0.12, 45,0.22, 55,0.35, 65,0.45, 75,0.5, 85,0.45, 95,0.35, 110,0.3, 125,0.22, 140,0.15, 160,0.12, 170,0.3, 176,0.5, 182,0.3, 190,0.18, 210,0.15, 240,0.1, 270,0.08, 290,0.1, 300,0.2, 308,0.4, 314,0.3, 325,0.22, 345,0.2, 365,0.2];
const POS_DA_S2_2P2Z = [0,0.6, 6,0.45, 12,0.3, 18,0.12, 24,0.1, 32,0.25, 40,0.55, 46,0.9, 52,1.2, 57,1.5, 62,1.35, 67,1.1, 72,1.3, 78,1.1, 84,1.0, 88,1.2, 92,0.85, 98,0.9, 104,1.0, 110,0.7, 115,0.5, 120,0.7, 125,0.8, 130,0.6, 137,0.4, 145,0.35, 155,0.3, 162,0.5, 168,0.8, 173,1.1, 177,1.2, 181,0.9, 186,0.7, 192,0.55, 200,0.45, 208,0.4, 216,0.5, 224,0.5, 232,0.4, 242,0.35, 252,0.25, 262,0.2, 270,0.3, 280,0.4, 292,0.4, 300,0.45, 305,0.7, 309,0.9, 314,0.6, 320,0.5, 330,0.5, 342,0.45, 355,0.4, 365,0.3];
const POS_DA_S2_3P1Z = [0,0.5, 6,0.35, 12,0.2, 18,0.08, 26,0.04, 36,0.08, 48,0.15, 60,0.2, 72,0.22, 85,0.18, 100,0.15, 120,0.12, 150,0.08, 170,0.12, 177,0.22, 185,0.1, 200,0.05, 240,0.03, 290,0.03, 302,0.1, 309,0.2, 316,0.12, 330,0.1, 365,0.1];
const POS_DA_S2_3P2Z = [0,0.6, 6,0.45, 12,0.3, 18,0.1, 24,0.05, 32,0.2, 40,0.5, 46,0.9, 51,1.3, 55,1.5, 59,1.3, 63,1.15, 68,1.3, 73,1.5, 78,1.7, 83,1.9, 87,2.1, 91,1.6, 95,1.35, 100,1.3, 105,1.2, 110,1.4, 115,1.1, 120,0.85, 125,0.95, 130,1.0, 135,0.9, 140,0.6, 145,0.5, 152,0.4, 158,0.5, 165,0.7, 170,1.0, 174,1.4, 177,1.7, 180,1.5, 184,1.2, 189,0.85, 195,0.8, 200,0.9, 205,0.75, 210,0.8, 215,1.2, 220,1.3, 226,1.25, 232,1.0, 240,0.85, 248,0.7, 255,0.5, 262,0.3, 268,0.45, 274,0.6, 282,0.6, 292,0.65, 300,0.7, 305,0.9, 309,1.2, 313,0.9, 318,0.8, 326,0.75, 336,0.7, 346,0.6, 356,0.6, 365,0.4];

const POS_CV1_1P1Z = [0,0.1, 20,0.12, 50,0.15, 80,0.25, 100,0.3, 115,0.3, 122,0.15, 130,0.04, 145,0.01, 290,0.01, 300,0.1, 310,0.2, 325,0.28, 345,0.32, 365,0.35];
const POS_CV1_2P1Z = [0,0.0, 60,0.02, 90,0.06, 110,0.1, 120,0.05, 130,0.0, 295,0.0, 305,0.08, 318,0.18, 335,0.22, 350,0.24, 365,0.25];
const POS_CV1_2P2Z = [0,0.2, 15,0.2, 30,0.28, 50,0.32, 70,0.38, 90,0.42, 110,0.45, 118,0.4, 125,0.2, 133,0.06, 145,0.01, 285,0.01, 295,0.12, 305,0.3, 320,0.42, 340,0.47, 355,0.5, 365,0.5];
const POS_CV1_3P1Z = [0,0.05, 40,0.06, 80,0.1, 105,0.15, 115,0.15, 123,0.05, 135,0.0, 295,0.0, 305,0.08, 320,0.15, 345,0.18, 365,0.2];
const POS_CV1_3P2Z = [0,0.15, 20,0.18, 40,0.2, 60,0.25, 80,0.3, 100,0.38, 112,0.4, 120,0.3, 127,0.15, 137,0.04, 150,0.01, 290,0.01, 300,0.12, 310,0.28, 325,0.38, 345,0.42, 365,0.45];

const POS_CV2_1P1Z = [0,0.0, 98,0.0, 104,0.15, 109,0.35, 113,0.5, 117,0.45, 122,0.25, 130,0.06, 140,0.0, 365,0.0];
const POS_CV2_2P1Z = [0,0.0, 100,0.0, 106,0.08, 112,0.2, 117,0.18, 124,0.06, 135,0.0, 365,0.0];
const POS_CV2_2P2Z = [0,0.0, 97,0.0, 103,0.2, 108,0.45, 112,0.65, 116,0.7, 120,0.5, 126,0.2, 134,0.04, 145,0.0, 365,0.0];
const POS_CV2_3P1Z = [0,0.0, 100,0.0, 106,0.12, 111,0.25, 116,0.3, 121,0.18, 128,0.05, 140,0.0, 365,0.0];
const POS_CV2_3P2Z = [0,0.0, 97,0.0, 103,0.25, 108,0.5, 113,0.75, 117,0.8, 121,0.55, 127,0.25, 135,0.06, 145,0.0, 365,0.0];

const POS_CV3_1P1Z = [0,0.0, 88,0.0, 95,0.08, 102,0.2, 108,0.35, 113,0.4, 118,0.3, 126,0.25, 135,0.3, 145,0.35, 152,0.5, 156,0.55, 162,0.3, 170,0.18, 185,0.1, 200,0.1, 207,0.25, 212,0.3, 220,0.15, 235,0.1, 280,0.08, 330,0.08, 365,0.08];
const POS_CV3_2P1Z = [0,0.0, 88,0.0, 95,0.12, 102,0.3, 108,0.45, 113,0.5, 118,0.35, 126,0.28, 135,0.3, 145,0.4, 152,0.55, 156,0.6, 162,0.35, 170,0.2, 185,0.12, 200,0.1, 208,0.15, 215,0.12, 240,0.1, 280,0.1, 330,0.1, 365,0.08];
const POS_CV3_2P2Z = [0,0.0, 80,0.0, 90,0.1, 97,0.25, 103,0.5, 108,0.8, 112,1.1, 116,0.8, 121,0.6, 128,0.4, 135,0.35, 142,0.45, 148,0.6, 152,1.2, 155,1.55, 159,1.2, 164,0.6, 172,0.3, 182,0.2, 195,0.2, 205,0.22, 212,0.25, 222,0.2, 240,0.15, 260,0.15, 280,0.18, 300,0.2, 320,0.22, 340,0.25, 365,0.2];
const POS_CV3_3P1Z = [0,0.0, 95,0.0, 103,0.1, 110,0.2, 116,0.18, 125,0.12, 140,0.18, 150,0.35, 155,0.5, 160,0.3, 168,0.12, 180,0.06, 200,0.05, 250,0.04, 300,0.04, 365,0.04];
const POS_CV3_3P2Z = [0,0.0, 80,0.0, 88,0.08, 96,0.2, 103,0.35, 108,0.5, 114,0.7, 119,0.55, 126,0.42, 134,0.4, 142,0.55, 148,0.9, 152,1.4, 155,1.6, 159,1.3, 163,0.8, 170,0.45, 180,0.3, 190,0.35, 197,0.5, 202,0.8, 206,1.0, 210,0.75, 216,0.5, 226,0.38, 240,0.35, 255,0.33, 270,0.3, 282,0.4, 295,0.45, 305,0.45, 315,0.5, 325,0.45, 335,0.4, 350,0.35, 365,0.22];

const POS_CV4_1P1Z = [0,1.3, 5,0.9, 10,0.6, 18,0.45, 28,0.38, 40,0.35, 50,0.38, 60,0.42, 70,0.48, 80,0.5, 90,0.45, 100,0.4, 110,0.3, 120,0.2, 130,0.1, 140,0.05, 160,0.03, 240,0.03, 250,0.15, 257,0.5, 263,0.4, 270,0.3, 285,0.25, 300,0.2, 330,0.17, 365,0.15];
const POS_CV4_2P1Z = [0,1.2, 5,0.7, 10,0.4, 18,0.2, 28,0.12, 40,0.06, 60,0.03, 100,0.01, 240,0.01, 250,0.1, 257,0.3, 264,0.15, 272,0.1, 280,0.2, 287,0.18, 295,0.1, 320,0.06, 365,0.04];
const POS_CV4_2P2Z = [0,1.4, 5,1.1, 10,1.0, 15,1.05, 22,1.1, 28,1.3, 34,1.45, 38,1.5, 43,1.3, 48,1.15, 53,1.0, 60,0.75, 68,0.6, 76,0.55, 85,0.55, 95,0.6, 103,0.55, 112,0.45, 122,0.3, 132,0.2, 145,0.13, 170,0.1, 210,0.1, 240,0.12, 250,0.3, 257,0.7, 262,0.6, 270,0.5, 280,0.45, 292,0.4, 305,0.35, 320,0.32, 340,0.28, 365,0.25];
const POS_CV4_3P1Z = [0,1.4, 5,0.9, 10,0.5, 18,0.35, 28,0.28, 40,0.25, 52,0.28, 62,0.3, 75,0.25, 90,0.2, 105,0.12, 118,0.05, 130,0.02, 240,0.02, 250,0.12, 257,0.3, 264,0.25, 275,0.2, 290,0.12, 310,0.08, 340,0.06, 365,0.05];
const POS_CV4_3P2Z = [0,1.5, 5,1.0, 10,0.75, 18,0.6, 28,0.6, 38,0.65, 46,0.8, 52,1.1, 55,1.2, 60,0.9, 66,0.75, 75,0.65, 85,0.7, 95,0.7, 105,0.6, 115,0.45, 125,0.3, 135,0.2, 150,0.12, 170,0.08, 220,0.06, 240,0.1, 250,0.35, 256,0.8, 260,0.9, 265,0.7, 272,0.6, 282,0.55, 295,0.45, 310,0.35, 325,0.3, 345,0.25, 365,0.2];

const POS_CV5_1P1Z = [0,0.05, 10,0.3, 20,0.7, 25,0.65, 30,0.6, 40,0.5, 50,0.6, 56,0.45, 62,0.3, 75,0.1, 97,0.05, 100,0.3, 102,0.4, 106,0.2, 110,0.6, 114,0.4, 118,0.2, 128,0.08, 140,0.05, 148,0.2, 152,0.3, 157,0.6, 161,1.0, 165,0.5, 175,0.1, 208,0.05, 212,1.0, 218,2.0, 222,1.6, 228,2.5, 232,3.2, 236,3.3, 240,2.5, 245,2.0, 250,1.2, 258,1.0, 265,1.3, 272,1.2, 280,1.4, 290,1.0, 300,0.8, 310,0.9, 320,1.2, 330,1.3, 340,0.9, 348,0.5, 355,0.1, 360,0.2, 365,0.4];
const POS_CV5_2P1Z = [0,0.02, 15,0.15, 25,0.3, 40,0.25, 50,0.3, 65,0.15, 80,0.05, 100,0.05, 110,0.3, 120,0.1, 140,0.02, 150,0.2, 158,0.5, 165,0.3, 175,0.05, 208,0.02, 212,1.0, 218,2.0, 222,1.7, 228,2.5, 232,2.8, 238,2.4, 243,1.7, 250,1.0, 258,0.6, 265,0.9, 272,1.1, 280,0.9, 290,0.7, 300,0.7, 310,0.8, 325,1.1, 335,0.7, 340,0.9, 348,0.3, 355,0.05, 365,0.2];
const POS_CV5_2P2Z = [0,0.1, 10,0.5, 20,1.1, 28,1.0, 35,0.8, 45,1.0, 55,0.6, 70,0.3, 85,0.1, 97,0.1, 102,0.6, 106,0.3, 110,0.9, 115,0.4, 125,0.1, 145,0.1, 150,0.8, 153,0.4, 156,1.2, 160,2.3, 164,1.3, 170,0.3, 180,0.12, 208,0.1, 212,1.8, 218,3.5, 222,2.5, 228,3.8, 232,4.7, 237,3.8, 242,3.0, 248,3.6, 255,2.5, 262,3.0, 270,2.4, 275,2.8, 282,2.3, 290,2.5, 300,1.8, 310,2.0, 318,1.6, 330,1.8, 340,1.2, 348,0.7, 355,0.3, 365,0.6];
const POS_CV5_3P1Z = [0,0.05, 10,0.3, 20,0.7, 28,0.8, 40,0.5, 50,0.7, 60,0.4, 75,0.1, 97,0.05, 102,0.5, 106,0.2, 110,0.8, 118,0.3, 140,0.05, 150,0.5, 153,0.3, 157,1.0, 162,1.0, 166,0.4, 175,0.1, 208,0.05, 212,1.2, 218,2.3, 222,1.8, 228,2.5, 232,2.9, 238,2.5, 243,1.8, 250,1.0, 258,0.7, 265,0.9, 272,1.2, 280,1.0, 290,0.8, 300,0.8, 310,0.9, 325,1.2, 335,0.8, 340,1.0, 348,0.4, 355,0.05, 365,0.3];
const POS_CV5_3P2Z = [0,0.1, 10,0.4, 20,0.9, 30,1.0, 40,0.7, 50,1.0, 58,0.7, 70,0.3, 80,0.1, 97,0.1, 102,0.8, 106,0.4, 110,1.2, 115,0.6, 120,0.2, 140,0.1, 148,1.0, 152,0.4, 155,1.5, 160,3.0, 164,1.8, 170,0.5, 180,0.2, 208,0.15, 212,2.0, 218,4.0, 222,3.0, 226,4.5, 230,5.5, 234,4.2, 240,3.0, 245,3.5, 252,3.0, 257,5.5, 263,5.5, 268,4.4, 275,3.8, 282,3.6, 290,3.3, 298,2.5, 305,2.8, 315,2.2, 320,1.5, 328,1.8, 335,2.0, 345,1.2, 352,0.3, 358,0.2, 365,0.5];

// ---------- lookup tables built from the arrays above ----------
const SAT_BY_STATION = [SAT_DA_N1, SAT_DA_N2, SAT_DA_S1, SAT_DA_S2, SAT_CV1, SAT_CV2, SAT_CV3, SAT_CV4, SAT_CV5];
const PRIORI_RUNS = [
  [PRI_DA_N1_1P1Z, PRI_DA_N1_2P1Z, PRI_DA_N1_2P2Z, PRI_DA_N1_3P1Z, PRI_DA_N1_3P2Z],
  [PRI_DA_N2_1P1Z, PRI_DA_N2_2P1Z, PRI_DA_N2_2P2Z, PRI_DA_N2_3P1Z, PRI_DA_N2_3P2Z],
  [PRI_DA_S1_1P1Z, PRI_DA_S1_2P1Z, PRI_DA_S1_2P2Z, PRI_DA_S1_3P1Z, PRI_DA_S1_3P2Z],
  [PRI_DA_S2_1P1Z, PRI_DA_S2_2P1Z, PRI_DA_S2_2P2Z, PRI_DA_S2_3P1Z, PRI_DA_S2_3P2Z],
  [PRI_CV1_1P1Z, PRI_CV1_2P1Z, PRI_CV1_2P2Z, PRI_CV1_3P1Z, PRI_CV1_3P2Z],
  [PRI_CV2_1P1Z, PRI_CV2_2P1Z, PRI_CV2_2P2Z, PRI_CV2_3P1Z, PRI_CV2_3P2Z],
  [PRI_CV3_1P1Z, PRI_CV3_2P1Z, PRI_CV3_2P2Z, PRI_CV3_3P1Z, PRI_CV3_3P2Z],
  [PRI_CV4_1P1Z, PRI_CV4_2P1Z, PRI_CV4_2P2Z, PRI_CV4_3P1Z, PRI_CV4_3P2Z],
  [PRI_CV5_1P1Z, PRI_CV5_2P1Z, PRI_CV5_2P2Z, PRI_CV5_3P1Z, PRI_CV5_3P2Z],
];
const POSTERIORI_RUNS = [
  [POS_DA_N1_1P1Z, POS_DA_N1_2P1Z, POS_DA_N1_2P2Z, POS_DA_N1_3P1Z, POS_DA_N1_3P2Z],
  [POS_DA_N2_1P1Z, POS_DA_N2_2P1Z, POS_DA_N2_2P2Z, POS_DA_N2_3P1Z, POS_DA_N2_3P2Z],
  [POS_DA_S1_1P1Z, POS_DA_S1_2P1Z, POS_DA_S1_2P2Z, POS_DA_S1_3P1Z, POS_DA_S1_3P2Z],
  [POS_DA_S2_1P1Z, POS_DA_S2_2P1Z, POS_DA_S2_2P2Z, POS_DA_S2_3P1Z, POS_DA_S2_3P2Z],
  [POS_CV1_1P1Z, POS_CV1_2P1Z, POS_CV1_2P2Z, POS_CV1_3P1Z, POS_CV1_3P2Z],
  [POS_CV2_1P1Z, POS_CV2_2P1Z, POS_CV2_2P2Z, POS_CV2_3P1Z, POS_CV2_3P2Z],
  [POS_CV3_1P1Z, POS_CV3_2P1Z, POS_CV3_2P2Z, POS_CV3_3P1Z, POS_CV3_3P2Z],
  [POS_CV4_1P1Z, POS_CV4_2P1Z, POS_CV4_2P2Z, POS_CV4_3P1Z, POS_CV4_3P2Z],
  [POS_CV5_1P1Z, POS_CV5_2P1Z, POS_CV5_2P2Z, POS_CV5_3P1Z, POS_CV5_3P2Z],
];
const RUNS_BY_PHASE = [PRIORI_RUNS, POSTERIORI_RUNS];

// ---------- layout ----------
const W = 703;
const H = 833;
const COL_LEFT = [73, 291, 507];
const PANEL_W = 189;
const PANEL_H = 80;
const ROW_TOP = [47, 172, 298, 476, 601, 726];
const PHASE_TITLE_Y = [9, 437];
const FONT = '"Liberation Sans", Arial, Helvetica, sans-serif';

function pairs(flat: number[]): number[][] {
  const out: number[][] = [];
  for (let i = 0; i + 1 < flat.length; i += 2) out.push([flat[i], flat[i + 1]]);
  return out;
}

function legendGraphics(top: number) {
  const left = 3;
  const width = 57;
  const height = 83;
  const els: any[] = [
    { type: "rect", shape: { x: left + 0.5, y: top + 0.5, width, height }, style: { fill: "#fff", stroke: "#000", lineWidth: 1 } },
  ];
  const rowY = (i: number) => top + 8 + i * 13.6;
  els.push({ type: "circle", shape: { cx: 18.5, cy: rowY(0), r: 2.4 }, style: { fill: "none", stroke: "#000", lineWidth: 1.4 } });
  els.push({ type: "text", x: 32, y: rowY(0), style: { text: "Sat", font: `10px ${FONT}`, fill: "#000", align: "left", verticalAlign: "middle", textAlign: "left", textVerticalAlign: "middle" } });
  MODELS.forEach((m, i) => {
    const y = rowY(i + 1);
    els.push({ type: "line", shape: { x1: 7, y1: y, x2: 30, y2: y }, style: { stroke: MODEL_COLORS[i], lineWidth: 2 } });
    els.push({ type: "text", x: 32, y, style: { text: m, font: `10px ${FONT}`, fill: "#000", align: "left", verticalAlign: "middle", textAlign: "left", textVerticalAlign: "middle" } });
  });
  return els;
}

function buildOption() {
  const grid: any[] = [];
  const xAxis: any[] = [];
  const yAxis: any[] = [];
  const series: any[] = [];
  const graphic: any[] = [];

  const centeredText = (text: string, x: number, y: number, size: number) => ({
    type: "text",
    x,
    y,
    style: { text, font: `${size}px ${FONT}`, fill: "#000", align: "center", verticalAlign: "middle", textAlign: "center", textVerticalAlign: "middle" },
  });

  let idx = 0;
  RUNS_BY_PHASE.forEach((runs, h) => {
    graphic.push(centeredText(PHASE_TITLES[h], (COL_LEFT[0] + COL_LEFT[2] + PANEL_W) / 2, PHASE_TITLE_Y[h], 13));
    graphic.push(...legendGraphics(ROW_TOP[h * 3] - 3));
    const midTop = ROW_TOP[h * 3 + 1];
    graphic.push({
      type: "text",
      x: 50,
      y: midTop + PANEL_H / 2,
      rotation: Math.PI / 2,
      style: { text: Y_LABEL, font: `11px ${FONT}`, fill: "#000", align: "center", verticalAlign: "middle", textAlign: "center", textVerticalAlign: "middle" },
    });

    STATIONS.forEach((station, s) => {
      const row = h * 3 + Math.floor(s / 3);
      const col = s % 3;
      const left = COL_LEFT[col];
      const top = ROW_TOP[row];
      graphic.push(centeredText(station, left + PANEL_W / 2, top - 14, 11));

      grid.push({ left, top, width: PANEL_W, height: PANEL_H, show: true, borderColor: "#000", borderWidth: 1, backgroundColor: "#fff" });

      const tickStyle = { show: true, inside: true, length: 3, lineStyle: { color: "#000", width: 1 } };
      // bottom and top x axes (the top one only carries mirrored ticks)
      xAxis.push({
        gridIndex: idx, type: "value", min: 0, max: 365, position: "bottom",
        axisLine: { show: false },
        axisTick: { ...tickStyle, customValues: MONTH_DAYS },
        axisLabel: {
          customValues: MONTH_DAYS, color: "#000", fontSize: 11, fontFamily: FONT, margin: 5,
          formatter: (v: number) => MONTH_LABELS[MONTH_DAYS.indexOf(v)] ?? "",
        },
        splitLine: { show: false },
      });
      xAxis.push({
        gridIndex: idx, type: "value", min: 0, max: 365, position: "top",
        axisLine: { show: false },
        axisTick: { ...tickStyle, customValues: MONTH_DAYS },
        axisLabel: { show: false },
        splitLine: { show: false },
      });
      yAxis.push({
        gridIndex: idx, type: "value", min: 0, max: 5, position: "left",
        axisLine: { show: false },
        axisTick: { ...tickStyle, customValues: Y_TICKS },
        axisLabel: { customValues: Y_TICKS, color: "#000", fontSize: 11, fontFamily: FONT, margin: 5 },
        splitLine: { show: false },
      });
      yAxis.push({
        gridIndex: idx, type: "value", min: 0, max: 5, position: "right",
        axisLine: { show: false },
        axisTick: { ...tickStyle, customValues: Y_TICKS },
        axisLabel: { show: false },
        splitLine: { show: false },
      });

      const xi = idx * 2;
      const yi = idx * 2;
      series.push({
        type: "scatter", name: "Sat", xAxisIndex: xi, yAxisIndex: yi,
        data: pairs(SAT_BY_STATION[s]),
        symbol: "circle", symbolSize: 5.5,
        itemStyle: { color: "rgba(0,0,0,0)", borderColor: "#000", borderWidth: 1.3 },
        silent: true, clip: true, z: 2,
      });
      runs[s].forEach((run: number[], m: number) => {
        series.push({
          type: "line", name: MODELS[m], xAxisIndex: xi, yAxisIndex: yi,
          data: pairs(run),
          showSymbol: false, symbol: "none",
          lineStyle: { color: MODEL_COLORS[m], width: 1.4 },
          silent: true, clip: true, z: 3,
        });
      });
      idx++;
    });
  });

  return {
    animation: false,
    backgroundColor: "#fff",
    grid,
    xAxis,
    yAxis,
    series,
    graphic,
  };
}

export default function App() {
  const ref = useRef<HTMLDivElement>(null);
  useEffect(() => {
    if (!ref.current) return;
    const chart = echarts.init(ref.current, undefined, { renderer: "svg" });
    chart.setOption(buildOption() as any);
    return () => chart.dispose();
  }, []);
  return (
    <div
      ref={ref}
      style={{ position: "absolute", left: 0, top: 0, width: W, height: H, background: "#fff" }}
    />
  );
}
